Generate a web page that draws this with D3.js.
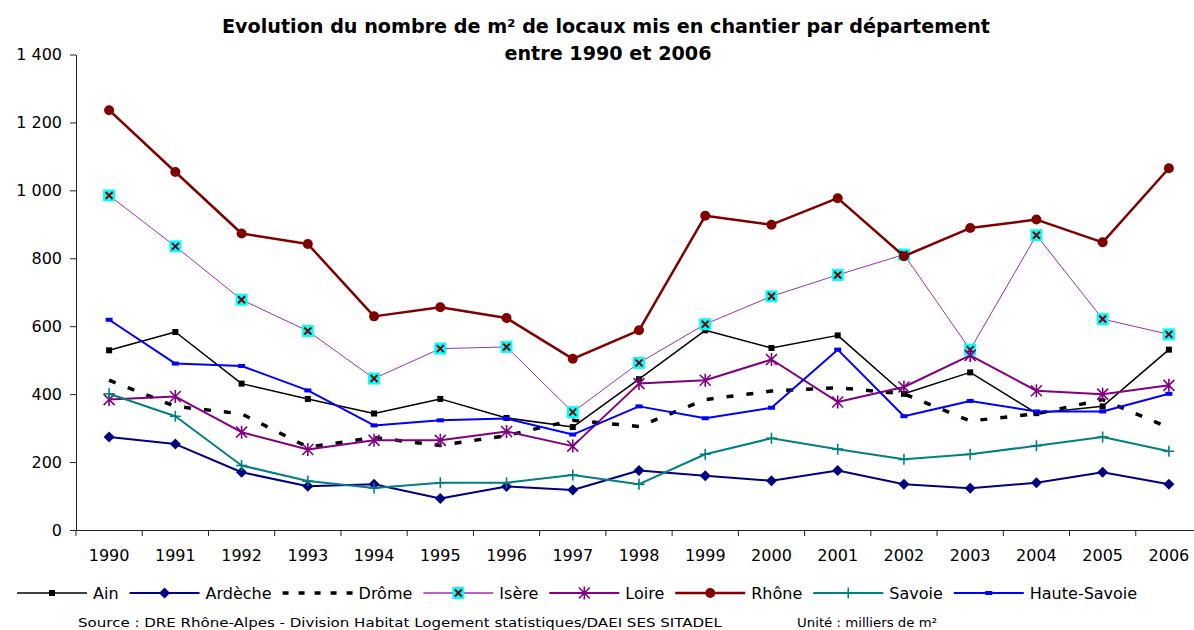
<!DOCTYPE html>
<html><head><meta charset="utf-8">
<script src="https://cdn.jsdelivr.net/npm/d3@7"></script>
<style>
body{margin:0;background:#fff}
svg{display:block}
text{font-family:"DejaVu Sans",sans-serif;fill:#000}
</style>
</head><body>
<svg id="c" width="1194" height="630"></svg>
<script>
// ---- data ----
const years = ["1990","1991","1992","1993","1994","1995","1996","1997","1998","1999","2000","2001","2002","2003","2004","2005","2006"];
const yTicks = [0,200,400,600,800,1000,1200,1400];
const ain         = [529,583,431,386,343,386,330,303,444,588,536,573,401,464,344,364,531];
const ardeche     = [274,253,170,129,135,93,128,118,175,160,145,175,135,123,139,170,135];
const drome       = [441,364,342,244,272,249,278,323,305,384,409,419,401,321,342,384,301];
const isere       = [985,835,678,586,446,534,539,347,492,606,688,751,811,531,868,621,576];
const loire       = [384,393,288,237,264,264,290,247,431,441,502,377,421,514,410,400,426];
const rhone       = [1236,1054,873,842,629,656,624,504,588,925,899,977,806,889,914,847,1065];
const savoie      = [401,335,190,144,124,139,139,162,135,223,270,238,208,223,248,274,232];
const hauteSavoie = [619,490,483,411,308,323,328,281,364,329,360,531,335,380,349,349,401];
const seriesNames = ["Ain","Ardèche","Drôme","Isère","Loire","Rhône","Savoie","Haute-Savoie"];
const titleLines = ["Evolution du nombre de m² de locaux mis en chantier par département","entre 1990 et 2006"];
const sourceText = "Source : DRE Rhône-Alpes - Division Habitat Logement statistiques/DAEI SES SITADEL";
const unitText = "Unité : milliers de m²";

// ---- styles ----
const styles = [
  {values:ain, color:"#000000", width:1.5, marker:"square"},
  {values:ardeche, color:"#000080", width:2, marker:"diamond"},
  {values:drome, color:"#000000", width:3.5, dash:"7,13", marker:"none"},
  {values:isere, color:"#9933aa", width:1, marker:"isere"},
  {values:loire, color:"#800080", width:2, marker:"asterisk"},
  {values:rhone, color:"#800000", width:2.5, marker:"circle"},
  {values:savoie, color:"#008080", width:2, marker:"plus"},
  {values:hauteSavoie, color:"#0000ff", width:2, marker:"dash"}
];

const svg = d3.select("#c");
const x = d3.scaleBand().domain(years).range([76,1202]).padding(0);
const y = d3.scaleLinear().domain([0,1400]).range([530,54.5]);
const cx = d => x(d) + x.bandwidth()/2;
const fr = d3.formatLocale({decimal:",",thousands:" ",grouping:[3],currency:["","€"]});
const fmt = fr.format(",d");

// Y axis
const ya = svg.append("g").attr("transform","translate(76,0)")
  .call(d3.axisLeft(y).tickValues(yTicks).tickFormat(fmt).tickSize(6).tickSizeOuter(0).tickPadding(8));
ya.attr("font-family",null).attr("font-size",null);
ya.selectAll("text").style("font-size","16px");
ya.selectAll("line,path").attr("stroke","#222");

// X axis (labels centred in bands, ticks at band boundaries)
const xa = svg.append("g").attr("transform","translate(0,530)")
  .call(d3.axisBottom(x).tickSize(0).tickSizeOuter(0).tickPadding(20));
xa.attr("font-family",null).attr("font-size",null);
xa.selectAll("text").style("font-size","16px");
xa.select(".domain").attr("stroke","#222");
const bounds = years.map(d => x(d)).concat([x(years[years.length-1]) + x.bandwidth()]);
xa.selectAll(".bt").data(bounds).join("line").attr("class","bt")
  .attr("x1",d=>d).attr("x2",d=>d).attr("y1",0).attr("y2",6).attr("stroke","#222");

// markers
function drawMarker(g, type, color){
  switch(type){
    case "square": g.append("rect").attr("x",-3).attr("y",-3).attr("width",6).attr("height",6).attr("fill",color); break;
    case "diamond": g.append("path").attr("d","M0,-5.5L5.5,0L0,5.5L-5.5,0Z").attr("fill",color); break;
    case "circle": g.append("circle").attr("r",5).attr("fill",color); break;
    case "isere":
      g.append("rect").attr("x",-6).attr("y",-6).attr("width",12).attr("height",12).attr("fill","#00ffff");
      g.append("path").attr("d","M-3.5,-3.5L3.5,3.5M-3.5,3.5L3.5,-3.5").attr("stroke","#800000").attr("stroke-width",2).attr("fill","none");
      break;
    case "asterisk":
      g.append("path").attr("d","M0,-6.5V6.5M-5.5,-5.5L5.5,5.5M-5.5,5.5L5.5,-5.5").attr("stroke",color).attr("stroke-width",1.6).attr("fill","none");
      break;
    case "plus":
      g.append("path").attr("d","M0,-5.5V5.5M-5.5,0H5.5").attr("stroke",color).attr("stroke-width",1.6).attr("fill","none");
      break;
    case "dash": g.append("rect").attr("x",-3.5).attr("y",-2).attr("width",7).attr("height",4).attr("fill",color); break;
  }
}

const line = d3.line().x((d,i)=>cx(years[i])).y(d=>y(d));
styles.forEach(s=>{
  const g = svg.append("g");
  g.append("path").attr("d",line(s.values)).attr("fill","none").attr("stroke",s.color)
    .attr("stroke-width",s.width).attr("stroke-dasharray",s.dash||null).attr("stroke-linejoin","round");
  s.values.forEach((v,i)=>{
    drawMarker(g.append("g").attr("transform",`translate(${cx(years[i])},${y(v)})`), s.marker, s.color);
  });
});

// legend
const legY = 593;
let lx = 17;
const lg = svg.append("g");
seriesNames.forEach((name,i)=>{
  const s = styles[i];
  const it = lg.append("g");
  it.append("line").attr("x1",lx).attr("x2",lx+70).attr("y1",legY).attr("y2",legY)
    .attr("stroke",s.color).attr("stroke-width",s.dash?3.5:(s.width>2?2.5:Math.max(s.width,1.5)))
    .attr("stroke-dasharray",s.dash?"6,10":null);
  if(s.marker!=="none") drawMarker(it.append("g").attr("transform",`translate(${lx+35},${legY})`), s.marker, s.color);
  const t = it.append("text").attr("x",lx+76).attr("y",legY+6).style("font-size","16px").text(name);
  lx = lx + 76 + t.node().getComputedTextLength() + 11;
});

// title
const t1 = svg.append("text").attr("x",606).attr("y",33).attr("text-anchor","middle")
  .style("font-size","19px").style("font-weight","bold").text(titleLines[0]);
const w1 = t1.node().getComputedTextLength();
const ratio = 768 / w1;
t1.attr("textLength",768).attr("lengthAdjust","spacingAndGlyphs");
const t2 = svg.append("text").attr("x",608).attr("y",60).attr("text-anchor","middle")
  .style("font-size","19px").style("font-weight","bold").text(titleLines[1]);
const w2 = t2.node().getComputedTextLength();
t2.attr("textLength",w2*ratio).attr("lengthAdjust","spacingAndGlyphs");

// source / unit
svg.append("text").attr("x",78).attr("y",627).style("font-size","13px")
  .attr("textLength",644).attr("lengthAdjust","spacingAndGlyphs").text(sourceText);
svg.append("text").attr("x",797).attr("y",627).style("font-size","13px")
  .attr("textLength",140).attr("lengthAdjust","spacingAndGlyphs").text(unitText);
</script>
</body></html>
